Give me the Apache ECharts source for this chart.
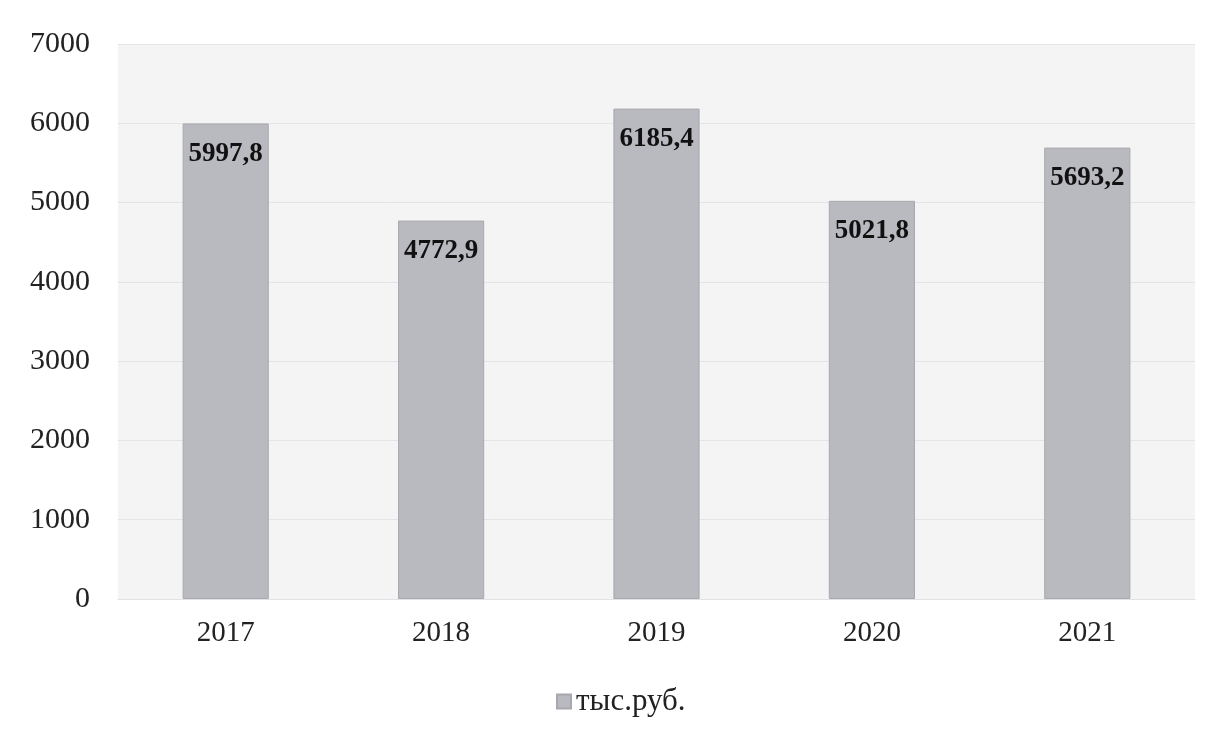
<!DOCTYPE html>
<html>
<head>
<meta charset="utf-8">
<script src="https://cdn.jsdelivr.net/npm/echarts@6/dist/echarts.min.js"></script>
<style>
html,body{margin:0;padding:0;background:#fff;}
#chart{width:1215px;height:734px;}
</style>
</head>
<body>
<div id="chart"></div>
<script>
var years=['2017','2018','2019','2020','2021'];
var values=[5997.8,4772.9,6185.4,5021.8,5693.2];
var seriesName='тыс.руб.';

var chart=echarts.init(document.getElementById('chart'));
var serif='"Liberation Serif", "DejaVu Serif", serif';
var option={
    backgroundColor:'#fff',
    textStyle:{fontFamily:serif},
    grid:{
        left:118,
        right:20,
        top:44,
        bottom:135,
        show:true,
        backgroundColor:'#f4f4f5',
        borderWidth:0
    },
    legend:{
        bottom:12,
        left:551,
        itemWidth:14,
        itemHeight:14,
        itemGap:8,
        icon:'rect',
        textStyle:{fontFamily:serif,fontSize:31,color:'#222'},
        data:[seriesName]
    },
    xAxis:{
        type:'category',
        data:years,
        axisLine:{show:true,lineStyle:{color:'#e2e2e4',width:1}},
        axisTick:{show:false},
        axisLabel:{fontFamily:serif,fontSize:29,color:'#222',margin:20}
    },
    yAxis:{
        type:'value',
        min:0,
        max:7000,
        interval:1000,
        axisLine:{show:false},
        axisTick:{show:false},
        splitLine:{lineStyle:{color:'#e4e4e6',width:1}},
        axisLabel:{
            fontFamily:serif,fontSize:30,color:'#222',margin:28,
            formatter:function(v){return String(v);}
        }
    },
    series:[
        {
            name:seriesName,
            type:'bar',
            data:values,
            barWidth:'40%',
            itemStyle:{
                color:'#b9b9c0',
                borderColor:'#a8a8ae',
                borderWidth:1
            },
            label:{
                show:true,
                position:'insideTop',
                distance:17,
                fontFamily:serif,
                fontSize:27,
                fontWeight:'bold',
                color:'#111',
                formatter:function(p){return String(p.value).replace('.',',');}
            }
        }
    ]
};
chart.setOption(option);
</script>
</body>
</html>
